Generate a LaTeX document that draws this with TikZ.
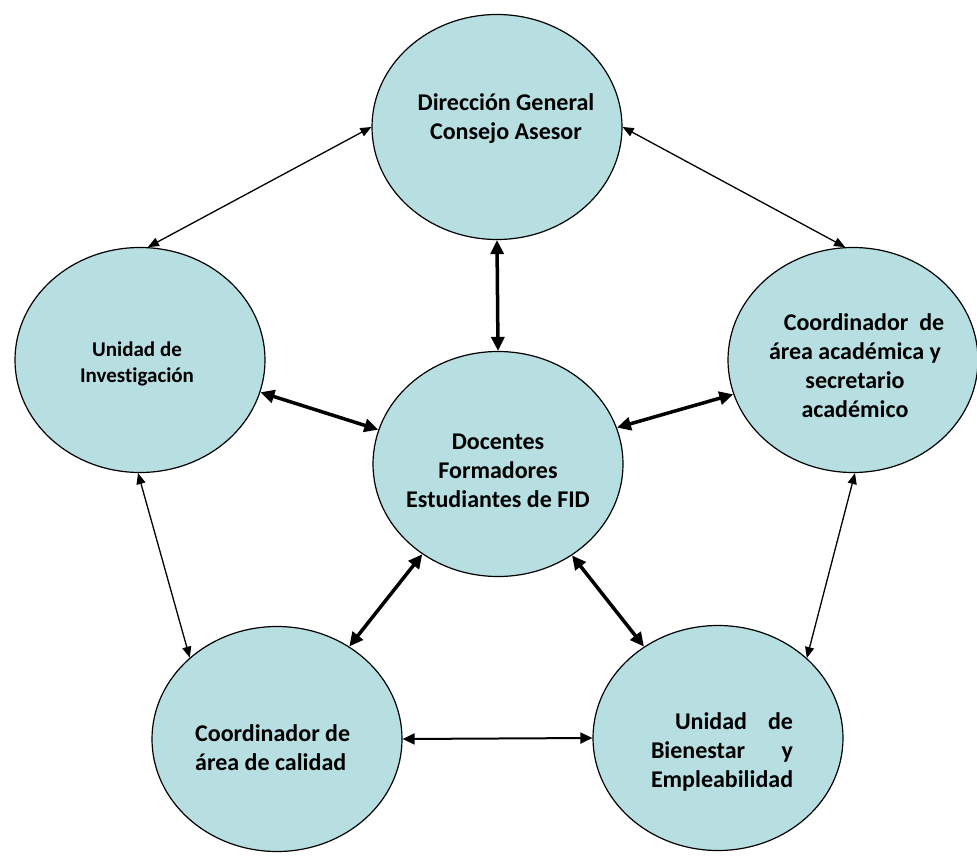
\documentclass[tikz,border=0pt]{standalone}
\usepackage{fontspec}
\setmainfont{Carlito}[Ligatures=NoCommon]
\usetikzlibrary{shapes.geometric,arrows.meta}
\definecolor{bubblefill}{RGB}{183,222,225}
\begin{document}
\begin{tikzpicture}[x=1pt,y=-1pt,
  bubble/.style={ellipse, draw=black, line width=1.2pt, fill=bubblefill,
    minimum width=250pt, minimum height=225pt, inner sep=0pt},
  lbl/.style={font=\fontsize{24}{29}\selectfont\bfseries, align=center, inner sep=0pt},
  smalllbl/.style={font=\fontsize{21}{26}\selectfont\bfseries, align=center, inner sep=0pt},
  thinlink/.style={{Triangle[length=11pt,width=9pt]}-{Triangle[length=11pt,width=9pt]}, line width=1.3pt},
  midlink/.style={{Triangle[length=12pt,width=11pt]}-{Triangle[length=12pt,width=11pt]}, line width=2pt},
  thicklink/.style={{Triangle[length=14pt,width=13pt]}-{Triangle[length=14pt,width=13pt]}, line width=3.5pt}
]
\useasboundingbox (0,0) rectangle (977,856);
% bubbles
\node[bubble] (dg) at (497,127) {};
\node[bubble] (ui) at (140,360) {};
\node[bubble] (ca) at (853,360) {};
\node[bubble] (dc) at (498,464) {};
\node[bubble] (cc) at (277,739) {};
\node[bubble] (ub) at (718,738) {};
% labels
\node[lbl] (dgt) at (506,119) {Dirección General\\Consejo Asesor};
\node[smalllbl] (uit) at (137,364) {Unidad de\\Investigación};
\node[lbl] (cat) at (855,366) {\hspace*{18pt}Coordinador\ \ de\\área académica y\\secretario\\académico};
\node[lbl] (dct) at (498,471) {Docentes\\Formadores\\Estudiantes de FID};
\node[lbl, align=left, anchor=west] (cct) at (195,748) {Coordinador de\\área de calidad};
\node[lbl, align=left] (ubt) at (722,752) {\makebox[142pt]{\hspace*{24pt}Unidad\hfill de}\\\makebox[142pt]{Bienestar\hfill y}\\\makebox[142pt][l]{Empleabilidad}};
% connectors
\draw[thinlink] (dg.west) -- (ui.86);
\draw[thinlink] (dg.east) -- (ca.94);
\draw[thicklink] (dg.south) -- (dc.north);
\draw[thicklink] (ui.-15) -- (dc.164.5);
\draw[thicklink] (ca.196) -- (dc.17);
\draw[thinlink] (ui.269) -- (cc.137);
\draw[thinlink] (ca.271) -- (ub.42);
\draw[thicklink] (dc.230) -- (cc.52);
\draw[thicklink] (dc.309) -- (ub.129);
\draw[midlink] (cc.east) -- (ub.west);
\end{tikzpicture}
\end{document}
